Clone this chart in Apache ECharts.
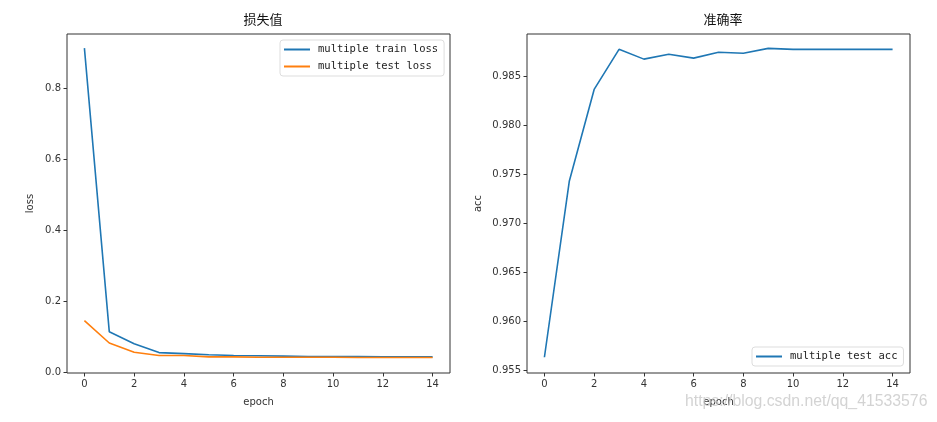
<!DOCTYPE html>
<html>
<head>
<meta charset="utf-8">
<script src="https://cdn.jsdelivr.net/npm/echarts@6/dist/echarts.min.js"></script>
<style>html,body{margin:0;padding:0;background:#fff}#c{width:937px;height:422px}</style>
</head>
<body>
<div id="c"></div>
<script>
var epochs = [0,1,2,3,4,5,6,7,8,9,10,11,12,13,14];
var trainLoss = [0.913,0.114,0.080,0.055,0.052,0.049,0.047,0.046,0.045,0.044,0.044,0.044,0.043,0.043,0.043];
var testLoss  = [0.145,0.082,0.056,0.047,0.047,0.043,0.043,0.042,0.042,0.042,0.042,0.041,0.041,0.041,0.041];
var testAcc   = [0.9563,0.9743,0.9837,0.9878,0.9868,0.9873,0.9869,0.9875,0.9874,0.9879,0.9878,0.9878,0.9878,0.9878,0.9878];
var xTicks = [0,2,4,6,8,10,12,14];
var lossTicks = [0.0,0.2,0.4,0.6,0.8];
var accTicks = [0.955,0.960,0.965,0.970,0.975,0.980,0.985];

var BLUE = '#1f77b4', ORANGE = '#ff7f0e';
var tickFont = {fontFamily:'DejaVu Sans', fontSize:10, color:'#333'};
function xAx(gi){
  return {type:'value', gridIndex:gi, min:-0.7, max:14.7,
    name:'epoch', nameLocation:'middle', nameGap:24, nameTextStyle:{fontFamily:'DejaVu Sans',fontSize:10,color:'#333'},
    axisLine:{show:false, onZero:false}, splitLine:{show:false},
    axisTick:{show:true, customValues:xTicks, length:3.5, lineStyle:{color:'#333'}},
    axisLabel:Object.assign({customValues:xTicks, margin:6}, tickFont)};
}
function yAx(gi,min,max,ticks,name,dec,gap){
  return {type:'value', gridIndex:gi, min:min, max:max,
    name:name, nameLocation:'middle', nameGap:gap, nameTextStyle:{fontFamily:'DejaVu Sans',fontSize:10,color:'#333'},
    axisLine:{show:false, onZero:false}, splitLine:{show:false},
    axisTick:{show:true, customValues:ticks, length:3.5, lineStyle:{color:'#333'}},
    axisLabel:Object.assign({customValues:ticks, margin:6, formatter:function(v){return v.toFixed(dec);}}, tickFont)};
}
function pairs(ys){ return epochs.map(function(e,i){return [e, ys[i]];}); }

var legendCommon = {orient:'vertical', icon:'rect', itemWidth:26, itemHeight:2, itemGap:6,
  padding:[4,6,4,4], borderColor:'#ddd', borderWidth:1, borderRadius:3,
  textStyle:{fontFamily:'DejaVu Sans Mono', fontSize:10.5, color:'#222', padding:[0,0,0,3]}};

var chart = echarts.init(document.getElementById('c'));
chart.setOption({
  animation:false,
  backgroundColor:'#fff',
  title:[
    {text:'损失值', left:258, top:8, textAlign:'center', textStyle:{fontFamily:'Noto Sans CJK SC', fontSize:13, fontWeight:'normal', color:'#111'}},
    {text:'准确率', left:718, top:8, textAlign:'center', textStyle:{fontFamily:'Noto Sans CJK SC', fontSize:13, fontWeight:'normal', color:'#111'}}
  ],
  grid:[
    {left:67, top:34, width:383, height:339, show:true, borderColor:'#333', borderWidth:1},
    {left:527, top:34, width:383, height:339, show:true, borderColor:'#333', borderWidth:1}
  ],
  xAxis:[xAx(0), xAx(1)],
  yAxis:[yAx(0,-0.0025,0.953,lossTicks,'loss',1,32), yAx(1,0.95469,0.98937,accTicks,'acc',3,44)],
  legend:[
    Object.assign({left:280, top:40, data:['multiple train loss','multiple test loss']}, legendCommon),
    Object.assign({left:752, top:347, data:['multiple test acc']}, legendCommon)
  ],
  series:[
    {name:'multiple train loss', type:'line', xAxisIndex:0, yAxisIndex:0, data:pairs(trainLoss), symbol:'none', lineStyle:{color:BLUE,width:1.6}, itemStyle:{color:BLUE}},
    {name:'multiple test loss', type:'line', xAxisIndex:0, yAxisIndex:0, data:pairs(testLoss), symbol:'none', lineStyle:{color:ORANGE,width:1.6}, itemStyle:{color:ORANGE}},
    {name:'multiple test acc', type:'line', xAxisIndex:1, yAxisIndex:1, data:pairs(testAcc), symbol:'none', lineStyle:{color:BLUE,width:1.6}, itemStyle:{color:BLUE}}
  ],
  graphic:[
    {type:'text', left:685, top:394, silent:true, z:100, style:{text:'https://blog.csdn.net/qq_41533576', fontFamily:'Liberation Sans', fontSize:15.8, fill:'rgba(200,200,200,0.8)'}}
  ]
});
</script>
</body>
</html>
